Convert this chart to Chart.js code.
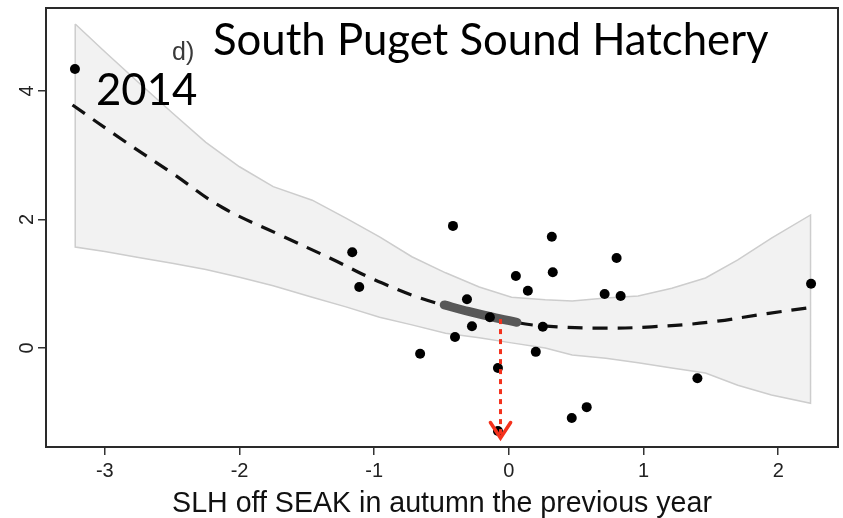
<!DOCTYPE html>
<html><head><meta charset="utf-8">
<script src="https://cdn.jsdelivr.net/npm/chart.js@4.4.0/dist/chart.umd.min.js"></script>
<style>html,body{margin:0;padding:0;background:#fff;}#wrap{width:843px;height:518px;}</style>
</head><body><div id="wrap"><canvas id="c" width="843" height="518"></canvas></div>
<script>
// ---- data ----
const pointX = [-3.222,-1.163,-1.111,-0.659,-0.415,-0.400,-0.311,-0.274,-0.141,-0.081,-0.081,0.052,0.141,0.200,0.252,0.319,0.326,0.467,0.578,0.711,0.800,0.830,1.400,2.244];
const pointY = [4.34,1.49,0.95,-0.09,1.90,0.17,0.76,0.34,0.48,-0.31,-1.29,1.12,0.89,-0.06,0.33,1.73,1.18,-1.09,-0.92,0.84,1.40,0.81,-0.47,1.00];

const curveX = [-3.24,-2.87,-2.50,-2.13,-1.70,-1.33,-0.94,-0.54,0.05,0.36,0.73,1.06,1.48,1.93,2.21];
const curveY = [3.78,3.24,2.72,2.19,1.76,1.40,1.01,0.70,0.40,0.33,0.31,0.33,0.40,0.54,0.62];

const bandX     = [-3.22,-3.00,-2.75,-2.50,-2.25,-2.00,-1.75,-1.46,-1.21,-0.96,-0.72,-0.47,-0.22,0.02,0.27,0.47,0.72,0.96,1.21,1.46,1.70,1.95,2.24];
const bandUpper = [5.04,4.61,4.13,3.66,3.20,2.82,2.51,2.30,2.02,1.73,1.42,1.17,0.95,0.79,0.75,0.73,0.78,0.81,0.93,1.09,1.37,1.71,2.07];
const bandLower = [1.57,1.50,1.41,1.32,1.22,1.10,0.97,0.79,0.64,0.48,0.36,0.23,0.16,0.08,0.00,-0.11,-0.16,-0.23,-0.31,-0.39,-0.58,-0.73,-0.86];

const segX = [-0.48,-0.30,-0.12,0.06];
const segY = [0.67,0.57,0.48,0.40];

const arrowX = -0.062;
const arrowTopY = 0.45;
const arrowTipY = -1.40;
const arrowHeadDX = 0.075;
const arrowHeadDY = 0.24;

const xTickValues = [-3,-2,-1,0,1,2];
const yTickValues = [0,2,4];

const panelLabel = "d)";
const titleText = "South Puget Sound Hatchery";
const yearText = "2014";
const xAxisTitle = "SLH off SEAK in autumn the previous year";

// ---- build datasets ----
const pts = pointX.map((x,i)=>({x, y: pointY[i]}));
const curve = curveX.map((x,i)=>({x, y: curveY[i]}));
const band = bandX.map((x,i)=>({x, y: bandUpper[i]}))
  .concat(bandX.map((x,i)=>({x, y: bandLower[i]})).reverse());
band.push({x: bandX[0], y: bandUpper[0]});
const seg = segX.map((x,i)=>({x, y: segY[i]}));
const arrowShaft = [{x: arrowX, y: arrowTopY},{x: arrowX, y: arrowTipY + 0.03}];
const arrowHead = [{x: arrowX - arrowHeadDX, y: arrowTipY + arrowHeadDY},{x: arrowX, y: arrowTipY},{x: arrowX + arrowHeadDX, y: arrowTipY + arrowHeadDY}];

const RED = '#f4311c';
const tickFont = {family: '"Liberation Sans", Arial, sans-serif', size: 20};

const overlay = {
  id: 'overlay',
  afterDraw(chart){
    const {ctx, chartArea: a, scales: {y}} = chart;
    ctx.save();
    ctx.strokeStyle = '#2a2a2a'; ctx.lineWidth = 2;
    ctx.strokeRect(a.left, a.top, a.right - a.left, a.bottom - a.top);
    // rotated y tick labels
    ctx.fillStyle = '#222';
    ctx.font = '20px "Liberation Sans", Arial, sans-serif';
    ctx.textAlign = 'center'; ctx.textBaseline = 'alphabetic';
    y.ticks.forEach(t => {
      const py = y.getPixelForValue(t.value);
      ctx.save(); ctx.translate(a.left - 13, py); ctx.rotate(-Math.PI/2);
      ctx.fillText(t.label, 0, 0); ctx.restore();
    });
    // panel label
    ctx.textAlign = 'left';
    ctx.fillStyle = '#3a3a3a';
    ctx.font = '25px "Liberation Sans", Arial, sans-serif';
    ctx.fillText(panelLabel, 172, 60);
    // title and year
    ctx.fillStyle = '#000';
    ctx.font = '44px Lato, "Open Sans", sans-serif';
    const w = ctx.measureText(titleText).width;
    const size = 44 * 556 / w;
    ctx.font = size.toFixed(1) + 'px Lato, "Open Sans", sans-serif';
    ctx.fillText(titleText, 213, 55);
    ctx.fillText(yearText, 96, 105);
    ctx.restore();
  }
};

new Chart(document.getElementById('c'), {
  type: 'scatter',
  data: { datasets: [
    {data: arrowHead, showLine: true, borderColor: RED, borderWidth: 3.5, pointRadius: 0, order: 0, borderCapStyle: 'round', borderJoinStyle: 'miter'},
    {data: arrowShaft, showLine: true, borderColor: RED, borderWidth: 3, borderDash: [5,5], pointRadius: 0, order: 1},
    {data: pts, backgroundColor: '#000', borderColor: '#000', pointRadius: 5, pointBorderWidth: 0, order: 2},
    {data: seg, showLine: true, borderColor: '#585858', borderWidth: 9, borderCapStyle: 'round', pointRadius: 0, tension: 0.3, order: 3},
    {data: curve, showLine: true, borderColor: '#111', borderWidth: 3.2, borderDash: [15,10], pointRadius: 0, tension: 0.4, order: 4},
    {data: band, showLine: true, fill: 'shape', backgroundColor: '#f2f2f2', borderColor: '#cdcdcd', borderWidth: 1.5, pointRadius: 0, tension: 0, order: 5}
  ]},
  options: {
    responsive: false, animation: false, devicePixelRatio: 1,
    layout: {padding: {left: 0, right: 3, top: 8, bottom: 0}},
    plugins: {legend: {display: false}, tooltip: {enabled: false}},
    scales: {
      x: {type: 'linear', min: -3.437, max: 2.444,
        afterBuildTicks: s => { s.ticks = xTickValues.map(v => ({value: v})); },
        ticks: {font: tickFont, color: '#222', padding: 4},
        grid: {display: true, drawOnChartArea: false, drawTicks: true, tickLength: 8, color: '#333', lineWidth: 1.5},
        border: {display: false},
        title: {display: true, text: xAxisTitle, color: '#111', font: {family: '"Liberation Sans", Arial, sans-serif', size: 28.6, lineHeight: 1}, padding: 0},
        afterFit: s => { s.height = 71; }
      },
      y: {type: 'linear', min: -1.54, max: 5.29,
        afterBuildTicks: s => { s.ticks = yTickValues.map(v => ({value: v})); },
        ticks: {display: false},
        grid: {display: true, drawOnChartArea: false, drawTicks: true, tickLength: 8, color: '#333', lineWidth: 1.5},
        border: {display: false},
        afterFit: s => { s.width = 46; }
      }
    }
  },
  plugins: [overlay]
});
</script></body></html>
